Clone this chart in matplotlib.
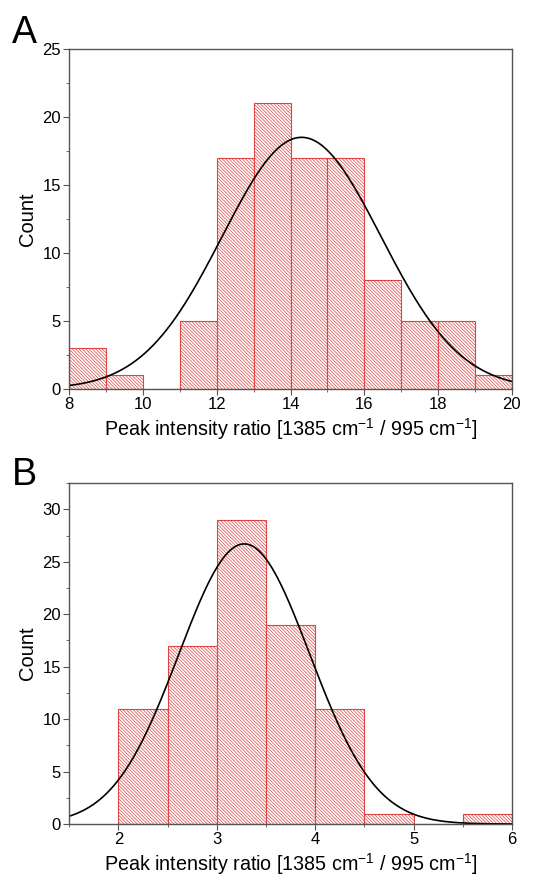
import numpy as np
import matplotlib.pyplot as plt
from matplotlib.ticker import MultipleLocator

plt.rcParams['font.family'] = ['Liberation Sans', 'DejaVu Sans']
plt.rcParams['hatch.linewidth'] = 0.5
plt.rcParams['mathtext.fontset'] = 'custom'
plt.rcParams['mathtext.rm'] = 'Liberation Sans'

# panel A: histogram counts, bin width 1
a_edges = [8, 9, 10, 11, 12, 13, 14, 15, 16, 17, 18, 19, 20]
a_counts = [3, 1, 0, 5, 17, 21, 17, 17, 8, 5, 5, 1]
a_fit = (18.5, 14.3, 2.15)  # amplitude, centre, sigma

# panel B: histogram counts, bin width 0.5
b_edges = [2.0, 2.5, 3.0, 3.5, 4.0, 4.5, 5.0, 5.5, 6.0]
b_counts = [11, 17, 29, 19, 11, 1, 0, 1]
b_fit = (26.7, 3.28, 0.665)

xlabel = 'Peak intensity ratio [1385 cm$^{\\mathrm{-1}}$ / 995 cm$^{\\mathrm{-1}}$]'
red = '#dd4444'
spine = '#555555'

fig = plt.figure(figsize=(5.4, 8.77), dpi=100)
axA = fig.add_axes([0.128, 0.5565, 0.820, 0.3877])
axB = fig.add_axes([0.128, 0.0604, 0.820, 0.3888])


def panel(ax, edges, counts, fit, xlim, ylim, xmaj, xmin, ymaj):
    edges = np.array(edges)
    widths = np.diff(edges)
    ax.bar(edges[:-1], counts, width=widths, align='edge', color='white',
           edgecolor=red, hatch='\\' * 10, linewidth=0.8)
    A, mu, sig = fit
    x = np.linspace(xlim[0], xlim[1], 400)
    ax.plot(x, A * np.exp(-(x - mu) ** 2 / (2 * sig ** 2)), color='black', lw=1.2)
    ax.set_xlim(*xlim)
    ax.set_ylim(*ylim)
    ax.xaxis.set_major_locator(MultipleLocator(xmaj))
    ax.xaxis.set_minor_locator(MultipleLocator(xmin))
    ax.yaxis.set_major_locator(MultipleLocator(ymaj))
    ax.yaxis.set_minor_locator(MultipleLocator(ymaj / 2))
    ax.tick_params(which='both', direction='out', top=False, right=False,
                   colors=spine, labelcolor='black', labelsize=12, pad=2)
    ax.tick_params(which='major', length=4)
    ax.tick_params(which='minor', length=2.5)
    for s in ax.spines.values():
        s.set_color(spine)
        s.set_linewidth(1.0)
    ax.set_xlabel(xlabel, fontsize=14.2, labelpad=3)
    ax.set_ylabel('Count', fontsize=14.5, labelpad=4)


panel(axA, a_edges, a_counts, a_fit, (8, 20), (0, 25), 2, 1, 5)
panel(axB, b_edges, b_counts, b_fit, (1.5, 6), (0, 32.5), 1, 0.5, 5)

fig.text(0.022, 0.951, 'A', fontsize=27, va='baseline')
fig.text(0.022, 0.447, 'B', fontsize=27, va='baseline')

fig.savefig('out.png', dpi=100)
